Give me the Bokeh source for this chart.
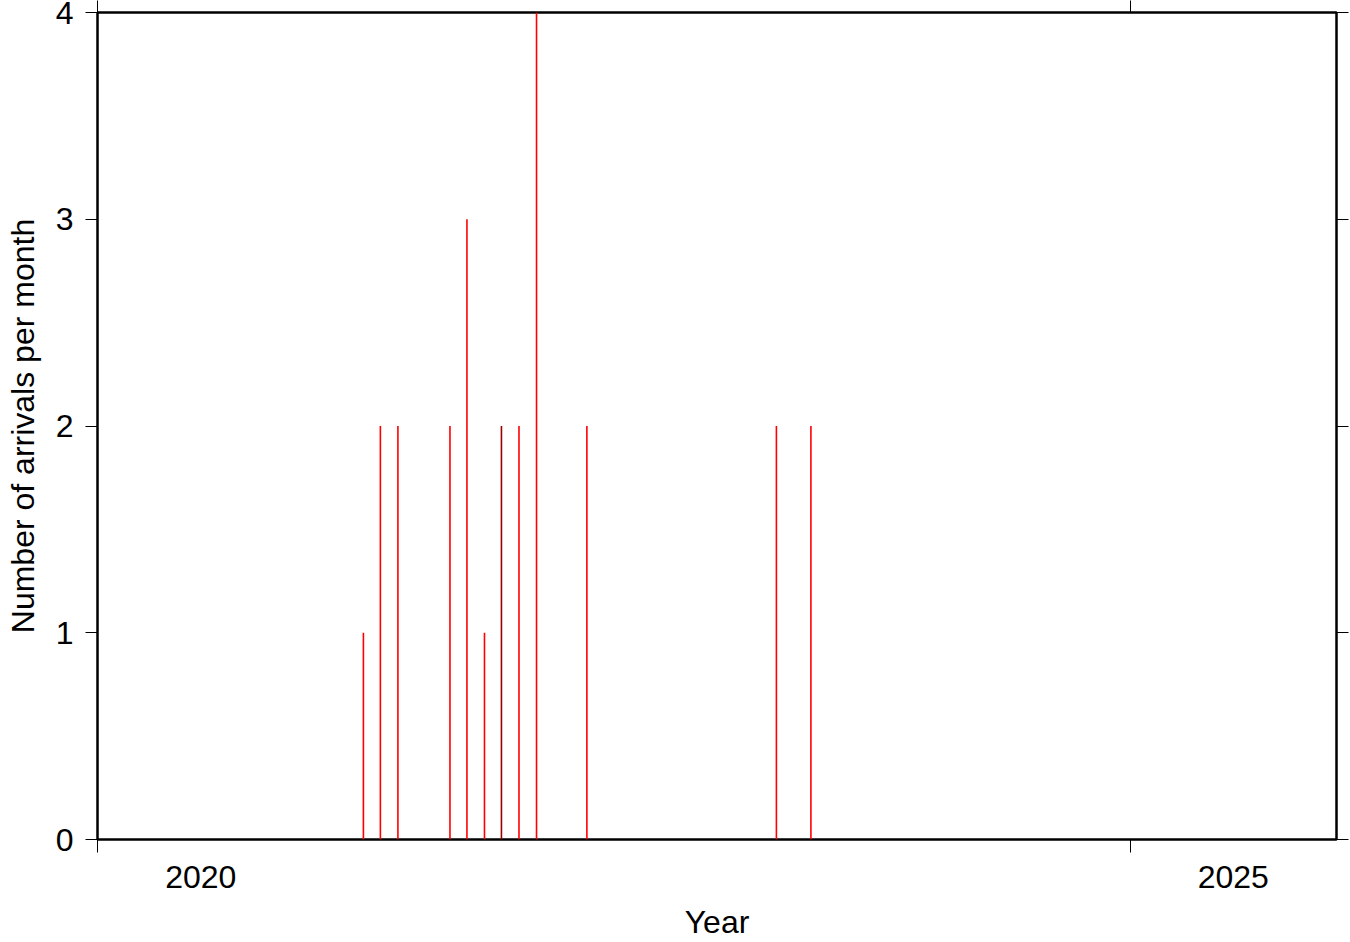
import datetime as dt
from bokeh.plotting import figure
from bokeh.models import LinearAxis, FixedTicker, Range1d
from bokeh.embed import file_html
from bokeh.resources import INLINE

# Monthly arrival counts (only non-zero months)
months = ["2021-04", "2021-05", "2021-06", "2021-09", "2021-10", "2021-11",
          "2021-12", "2022-01", "2022-02", "2022-05", "2023-04", "2023-06"]
counts = [1, 2, 2, 2, 3, 1, 2, 2, 4, 2, 2, 2]
bar_colors = ["#ff0000", "#ff0000", "#ff0000", "#ff0000", "#ff0000", "#ff0000",
              "#990000", "#ff0000", "#ff0000", "#ff0000", "#ff0000", "#ff0000"]
year_ticks = [2020, 2025]
year_labels = ["2020", "2025"]
count_ticks = [0, 1, 2, 3, 4]
x_title = "Year"
y_title = "Number of arrivals per month"


def dec_year(ym, day=16):
    y, m = map(int, ym.split("-"))
    d = dt.date(y, m, day)
    start = dt.date(y, 1, 1)
    n = (dt.date(y + 1, 1, 1) - start).days
    return y + (d - start).days / n


xs = [dec_year(m) for m in months]

FONT = "Liberation Sans"

p = figure(width=1350, height=942, output_backend="svg", toolbar_location=None,
           x_range=Range1d(2020, 2026), y_range=Range1d(0, 4),
           x_axis_type=None, y_axis_type=None,
           min_border_left=97, min_border_top=12, min_border_right=14,
           min_border_bottom=103, margin=(0, 0, 0, 0))
p.grid.visible = False
p.outline_line_color = "black"
p.outline_line_width = 2.5
p.background_fill_color = "white"
p.border_fill_color = "white"

p.segment(x0=xs, y0=[0] * len(xs), x1=xs, y1=counts, line_color=bar_colors,
          line_width=1.6)


def style_common(ax):
    ax.axis_line_color = None
    ax.major_tick_in = 0
    ax.minor_tick_in = 0
    ax.major_tick_line_color = "black"
    ax.minor_tick_line_color = "black"
    ax.major_tick_line_width = 1
    ax.minor_tick_line_width = 1
    ax.major_label_text_font = FONT
    ax.major_label_text_color = "black"
    ax.axis_label_text_font = FONT
    ax.axis_label_text_font_style = "normal"
    ax.axis_label_text_color = "black"
    ax.axis_label_text_font_size = "32px"


# bottom axis: ticks at year starts (minor), labels centred in the year (major)
bx = LinearAxis(ticker=FixedTicker(ticks=[t + 0.5 for t in year_ticks],
                                   minor_ticks=year_ticks))
style_common(bx)
bx.major_label_overrides = {t + 0.5: l for t, l in zip(year_ticks, year_labels)}
bx.major_tick_out = 0
bx.minor_tick_out = 13
bx.major_label_standoff = 13
bx.major_label_text_font_size = "32px"
bx.axis_label = x_title
bx.axis_label_standoff = 13
p.add_layout(bx, "below")

# left axis
ly = LinearAxis(ticker=FixedTicker(ticks=count_ticks, minor_ticks=[]))
style_common(ly)
ly.major_tick_out = 12
ly.major_label_standoff = 12
ly.major_label_text_font_size = "32px"
ly.axis_label = y_title
ly.axis_label_standoff = 12
p.add_layout(ly, "left")

# top axis: ticks only
tx = LinearAxis(ticker=FixedTicker(ticks=year_ticks, minor_ticks=[]))
style_common(tx)
tx.major_tick_out = 12
tx.major_label_standoff = 0
tx.major_label_text_font_size = "0px"
tx.major_label_overrides = {t: "" for t in year_ticks}
p.add_layout(tx, "above")

# right axis: ticks only
ry = LinearAxis(ticker=FixedTicker(ticks=count_ticks, minor_ticks=[]))
style_common(ry)
ry.major_tick_out = 12
ry.major_label_standoff = 0
ry.major_label_text_font_size = "0px"
ry.major_label_overrides = {t: "" for t in count_ticks}
p.add_layout(ry, "right")

open("out.html", "w").write(file_html(p, INLINE))
